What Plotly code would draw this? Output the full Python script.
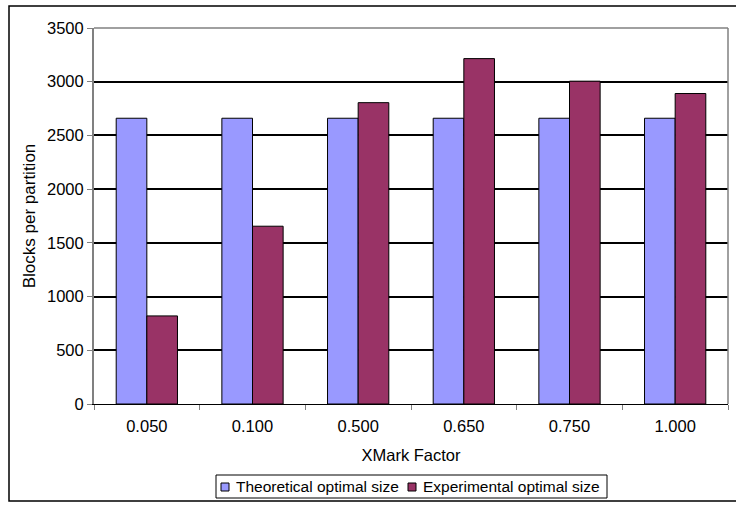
import plotly.graph_objects as go

categories = ["0.050", "0.100", "0.500", "0.650", "0.750", "1.000"]
theoretical = [2660, 2660, 2660, 2660, 2660, 2660]
experimental = [820, 1655, 2805, 3215, 3005, 2890]
y_ticks = [0, 500, 1000, 1500, 2000, 2500, 3000, 3500]

series_names = ["Theoretical optimal size", "Experimental optimal size"]
series_colors = ["#9999FF", "#993366"]

FONT = "Liberation Sans, Arial, sans-serif"

# figure geometry (pixels)
W, H = 736, 508
M_L, M_R, M_T, M_B = 94, 8, 28, 104
PW, PH = W - M_L - M_R, H - M_T - M_B


def px_x(px):
    """Horizontal pixel -> paper coordinate."""
    return (px - M_L) / PW


def px_y(py):
    """Vertical pixel (from top) -> paper coordinate."""
    return (H - M_B - py) / PH


fig = go.Figure()
for name, vals, col in zip(series_names, [theoretical, experimental], series_colors):
    fig.add_trace(go.Bar(
        x=categories, y=vals, name=name,
        marker=dict(color=col, line=dict(color="#000000", width=1)),
    ))

shapes = [
    # gray border on top and right of the plot area
    dict(type="line", xref="paper", yref="paper", x0=0, x1=1, y0=1, y1=1,
         line=dict(color="#808080", width=1.5), layer="above"),
    dict(type="line", xref="paper", yref="paper", x0=1, x1=1, y0=0, y1=1,
         line=dict(color="#808080", width=1.5), layer="above"),
    # outer chart frame
    dict(type="rect", xref="paper", yref="paper",
         x0=px_x(9), x1=px_x(745), y0=px_y(501), y1=px_y(6),
         line=dict(color="black", width=1.5), fillcolor="rgba(0,0,0,0)"),
    # legend box
    dict(type="rect", xref="paper", yref="paper",
         x0=px_x(216), x1=px_x(607), y0=px_y(498), y1=px_y(475),
         line=dict(color="black", width=1), fillcolor="white"),
]
annotations = []

# legend entries: swatch + label
legend_swatch_x = [221, 408]
for sx, name, col in zip(legend_swatch_x, series_names, series_colors):
    shapes.append(dict(
        type="rect", xref="paper", yref="paper",
        x0=px_x(sx), x1=px_x(sx + 8), y0=px_y(491), y1=px_y(483),
        line=dict(color="black", width=1), fillcolor=col,
    ))
    annotations.append(dict(
        text=name, xref="paper", yref="paper", x=px_x(sx + 13), y=px_y(486.5),
        xanchor="left", yanchor="middle", showarrow=False,
        font=dict(size=15.5, family=FONT, color="black"),
    ))

fig.update_layout(
    width=W, height=H,
    margin=dict(l=M_L, r=M_R, t=M_T, b=M_B, autoexpand=False),
    paper_bgcolor="white", plot_bgcolor="white",
    font=dict(family=FONT, size=16, color="black"),
    barmode="group", bargap=0.42, bargroupgap=0,
    showlegend=False,
    xaxis=dict(
        type="category", showline=True, linecolor="black", linewidth=1,
        ticks="outside", tickson="boundaries", ticklen=5, tickcolor="#808080",
        showgrid=False, automargin=False, ticklabelstandoff=7,
        tickfont=dict(size=16.5),
        title=dict(text="XMark Factor", standoff=15, font=dict(size=16.5)),
    ),
    yaxis=dict(
        range=[0, 3500], tickvals=y_ticks, showline=True, linecolor="#808080",
        linewidth=2, ticks="outside", ticklen=5, tickcolor="#808080",
        showgrid=True, gridcolor="black", gridwidth=1.5, zeroline=False,
        automargin=False, tickfont=dict(size=16.5),
        title=dict(text="Blocks per partition", standoff=7, font=dict(size=17)),
    ),
    shapes=shapes,
    annotations=annotations,
)

fig.write_html("out.html")
